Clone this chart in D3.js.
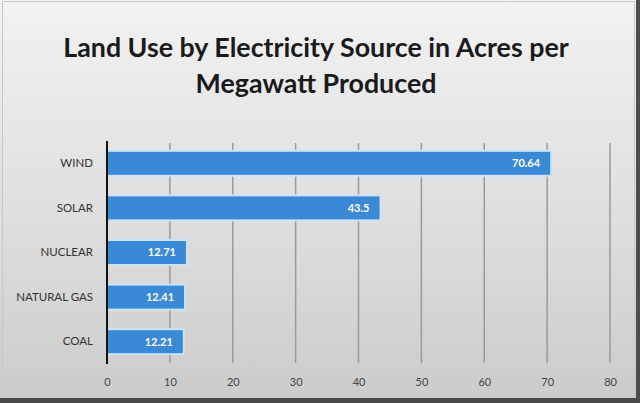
<!DOCTYPE html>
<html>
<head>
<meta charset="utf-8">
<script src="https://cdn.jsdelivr.net/npm/d3@7"></script>
<style>
  html, body { margin: 0; padding: 0; background: #e6e6e6; }
  svg { display: block; }
</style>
</head>
<body>
<svg id="chart" width="640" height="403"></svg>
<script>
'use strict';

// data
const sources = ["WIND", "SOLAR", "NUCLEAR", "NATURAL GAS", "COAL"];
const acres = [70.64, 43.5, 12.71, 12.41, 12.21];
const valueLabels = ["70.64", "43.5", "12.71", "12.41", "12.21"];
const ticks = [0, 10, 20, 30, 40, 50, 60, 70, 80];
const titleLines = ["Land Use by Electricity Source in Acres per", "Megawatt Produced"];

const W = 640, H = 403;
const svg = d3.select("#chart");

// background with soft grey gradient
const defs = svg.append("defs");
const grad = defs.append("linearGradient")
  .attr("id", "bg")
  .attr("x1", 0).attr("y1", 0).attr("x2", 0).attr("y2", 1);
grad.append("stop").attr("offset", "0%").attr("stop-color", "#f2f2f2");
grad.append("stop").attr("offset", "55%").attr("stop-color", "#dedede");
grad.append("stop").attr("offset", "100%").attr("stop-color", "#cbcbcb");

svg.append("rect")
  .attr("width", W).attr("height", H)
  .attr("fill", "url(#bg)");

// faint inner frame
svg.append("rect")
  .attr("x", 2.5).attr("y", 1.5)
  .attr("width", W - 8).attr("height", H - 7)
  .attr("fill", "none")
  .attr("stroke", "#c8c8c8")
  .attr("stroke-width", 1);

// dark edges on right and bottom
svg.append("rect")
  .attr("x", W - 4).attr("y", 0)
  .attr("width", 4).attr("height", H)
  .attr("fill", "#4d4d4d");
svg.append("rect")
  .attr("x", 0).attr("y", H - 5)
  .attr("width", W).attr("height", 5)
  .attr("fill", "#4a4a4a");

// title
svg.append("g")
  .selectAll("text")
  .data(titleLines)
  .enter()
  .append("text")
  .attr("x", 316)
  .attr("y", (d, i) => 57 + i * 36)
  .attr("text-anchor", "middle")
  .attr("font-family", "Lato, 'Open Sans', sans-serif")
  .attr("font-weight", "bold")
  .attr("font-size", 26.8)
  .attr("fill", "#1a1a1a")
  .text(d => d);

// scales
const x = d3.scaleLinear()
  .domain([0, 80])
  .range([107, 610]);

const y = d3.scaleBand()
  .domain(sources)
  .range([141, 364])
  .paddingInner(0.44)
  .paddingOuter(0.22);

// gridlines
svg.append("g")
  .selectAll("line")
  .data(ticks.slice(1))
  .enter()
  .append("line")
  .attr("x1", d => x(d)).attr("x2", d => x(d))
  .attr("y1", 143).attr("y2", 363)
  .attr("stroke", "#9a9a9a")
  .attr("stroke-width", 1.5);

// bars
const rows = sources.map((s, i) => ({ name: s, value: acres[i], label: valueLabels[i] }));

svg.append("g")
  .selectAll("rect")
  .data(rows)
  .enter()
  .append("rect")
  .attr("x", x(0))
  .attr("y", d => y(d.name))
  .attr("width", d => x(d.value) - x(0))
  .attr("height", y.bandwidth())
  .attr("fill", "#3a89d6")
  .attr("stroke", "#cbe3f7")
  .attr("stroke-width", 2);

// value labels inside bars
svg.append("g")
  .selectAll("text")
  .data(rows)
  .enter()
  .append("text")
  .attr("x", d => x(d.value) - 11)
  .attr("y", d => y(d.name) + y.bandwidth() / 2)
  .attr("dy", "0.35em")
  .attr("text-anchor", "end")
  .attr("font-family", "Lato, 'Open Sans', sans-serif")
  .attr("font-weight", "bold")
  .attr("font-size", 11)
  .attr("fill", "#ffffff")
  .text(d => d.label);

// category axis
const yAxis = svg.append("g")
  .attr("transform", `translate(${x(0)},0)`)
  .call(d3.axisLeft(y).tickSize(0).tickPadding(14));
yAxis.select(".domain")
  .attr("d", "M0,141V364")
  .attr("stroke", "#111")
  .attr("stroke-width", 2);
yAxis.selectAll("text")
  .attr("font-family", "Lato, 'Open Sans', sans-serif")
  .attr("font-size", 11.5)
  .attr("fill", "#333");

// value axis
const xAxis = svg.append("g")
  .attr("transform", "translate(0,376)")
  .call(d3.axisBottom(x).tickValues(ticks).tickSize(0).tickPadding(2));
xAxis.select(".domain").remove();
xAxis.selectAll("text")
  .attr("font-family", "Lato, 'Open Sans', sans-serif")
  .attr("font-size", 11)
  .attr("fill", "#444");
</script>
</body>
</html>
